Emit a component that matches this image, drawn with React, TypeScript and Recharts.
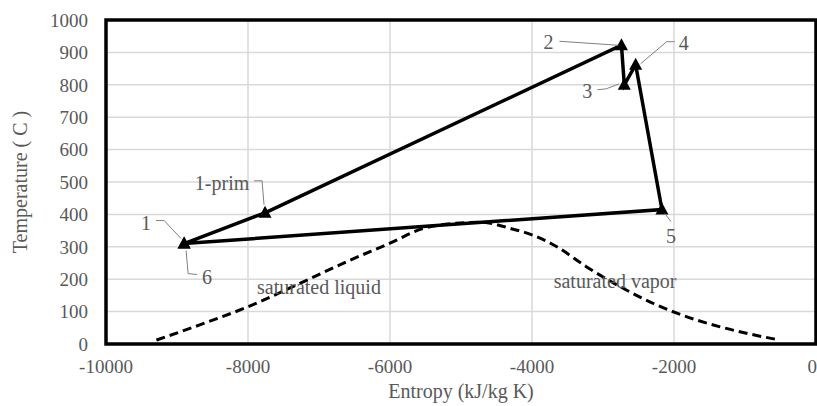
import React from "react";
import {
  ComposedChart,
  CartesianGrid,
  Line,
  LabelList,
  ReferenceArea,
  ReferenceDot,
  XAxis,
  YAxis,
} from "recharts";

// cycle state points (entropy, temperature)
const cycleNames = ["1", "1-prim", "2", "3", "4", "5", "6"];
const cycleEntropy = [-8900, -7760, -2740, -2700, -2540, -2170, -8900];
const cycleTemp = [310, 405, 922, 800, 862, 415, 310];

// saturation dome
const domeEntropy = [
  -9290, -8680, -8000, -7270, -6560, -6000, -5530, -5100, -4730, -4310, -3990,
  -3650, -3230, -2760, -2290, -1960, -1350, -510,
];
const domeTemp = [
  12, 59, 115, 187, 259, 311, 357, 372, 376, 357, 336, 300, 238, 177, 125, 95,
  53, 12,
];

const xTicks = [-10000, -8000, -6000, -4000, -2000, 0];
const yTicks = [0, 100, 200, 300, 400, 500, 600, 700, 800, 900, 1000];

const cycleData = cycleNames.map((n, i) => ({
  name: n,
  x: cycleEntropy[i],
  y: cycleTemp[i],
}));
const domeData = domeEntropy.map((x, i) => ({ x, y: domeTemp[i] }));

const FONT = "'Liberation Serif', 'Times New Roman', serif";
const GREY = "#595959";

// label placement for each point: text offset and leader line, pixels from the point
const callouts: Record<string, { tx: number; ty: number; path: number[][] }> = {
  "1": { tx: -38, ty: -21, path: [[-28, -23], [-20, -23], [-3, -5]] },
  "1-prim": { tx: -43, ty: -30, path: [[-11, -32], [-3, -32], [-1, -8]] },
  "2": { tx: -73, ty: -3, path: [[-62, -4], [-3, 0]] },
  "3": { tx: -37, ty: 6, path: [[-27, 5], [-18, 4], [-5, -1]] },
  "4": { tx: 48, ty: -22, path: [[39, -23], [31, -23], [5, -1]] },
  "5": { tx: 9, ty: 26, path: [[3, 4], [9, 12]] },
  "6": { tx: 23, ty: 33, path: [[2, 7], [4, 30], [13, 31]] },
};

function Triangle(props: any) {
  const { cx, cy, index } = props;
  if (cx == null || cy == null) return <g key={`t${index}`} />;
  return (
    <path
      key={`t${index}`}
      d={`M${cx},${cy - 7} L${cx + 6.5},${cy + 5} L${cx - 6.5},${cy + 5} Z`}
      fill="#000"
    />
  );
}

function Callout(props: any) {
  const { value } = props;
  const x = props.x ?? props.viewBox?.x;
  const y = props.y ?? props.viewBox?.y;
  const c = callouts[value];
  if (!c || x == null) return null;
  const d = c.path
    .map((p, i) => `${i === 0 ? "M" : "L"}${x + p[0]},${y + p[1]}`)
    .join(" ");
  return (
    <g>
      <path d={d} stroke="#808080" strokeWidth={1} fill="none" />
      <text
        x={x + c.tx}
        y={y + c.ty}
        textAnchor="middle"
        dominantBaseline="central"
        fill={GREY}
        fontSize={20}
        fontFamily={FONT}
      >
        {value}
      </text>
    </g>
  );
}

export default function App() {
  return (
    <div style={{ position: "absolute", left: 0, top: 0, background: "#fff" }}>
      <ComposedChart
        width={817}
        height={406}
        margin={{ top: 20, right: 1, left: 0, bottom: 0 }}
      >
        <CartesianGrid stroke="#d9d9d9" strokeWidth={1.5} />
        <XAxis
          type="number"
          dataKey="x"
          domain={[-10000, 0]}
          ticks={xTicks}
          allowDataOverflow
          axisLine={false}
          tickLine={false}
          height={62}
          tickMargin={10}
          tick={{ fill: GREY, fontSize: 19, fontFamily: FONT }}
          label={{
            content: (p: any) => {
              const vb = p.viewBox;
              return (
                <text
                  x={vb.x + vb.width / 2}
                  y={398}
                  textAnchor="middle"
                  fill={GREY}
                  fontSize={20}
                  fontFamily={FONT}
                >
                  Entropy (kJ/kg K)
                </text>
              );
            },
          }}
        />
        <YAxis
          type="number"
          domain={[0, 1000]}
          ticks={yTicks}
          allowDataOverflow
          axisLine={false}
          tickLine={false}
          width={106}
          tickMargin={12}
          tick={{ fill: GREY, fontSize: 19, fontFamily: FONT }}
          label={{
            content: (p: any) => {
              const vb = p.viewBox;
              const cy = vb.y + vb.height / 2;
              return (
                <text
                  x={20}
                  y={cy}
                  transform={`rotate(-90, 20, ${cy})`}
                  textAnchor="middle"
                  dominantBaseline="central"
                  fill={GREY}
                  fontSize={20}
                  fontFamily={FONT}
                >
                  Temperature ( C )
                </text>
              );
            },
          }}
        />
        <ReferenceArea
          x1={-10000}
          x2={0}
          y1={0}
          y2={1000}
          fill="none"
          stroke="#000"
          strokeWidth={3.5}
        />
        <Line
          data={domeData}
          dataKey="y"
          type="monotone"
          stroke="#000"
          strokeWidth={3}
          strokeDasharray="9 5"
          dot={false}
          isAnimationActive={false}
        />
        <Line
          data={cycleData}
          dataKey="y"
          type="linear"
          stroke="#000"
          strokeWidth={3.5}
          dot={Triangle}
          isAnimationActive={false}
        >
          <LabelList dataKey="name" content={Callout} />
        </Line>
        <ReferenceDot
          x={-7000}
          y={176}
          r={0}
          fill="none"
          stroke="none"
          label={{
            value: "saturated liquid",
            position: "center",
            fill: GREY,
            fontSize: 20,
            fontFamily: FONT,
          }}
        />
        <ReferenceDot
          x={-2830}
          y={194}
          r={0}
          fill="none"
          stroke="none"
          label={{
            value: "saturated vapor",
            position: "center",
            fill: GREY,
            fontSize: 20,
            fontFamily: FONT,
          }}
        />
      </ComposedChart>
    </div>
  );
}
